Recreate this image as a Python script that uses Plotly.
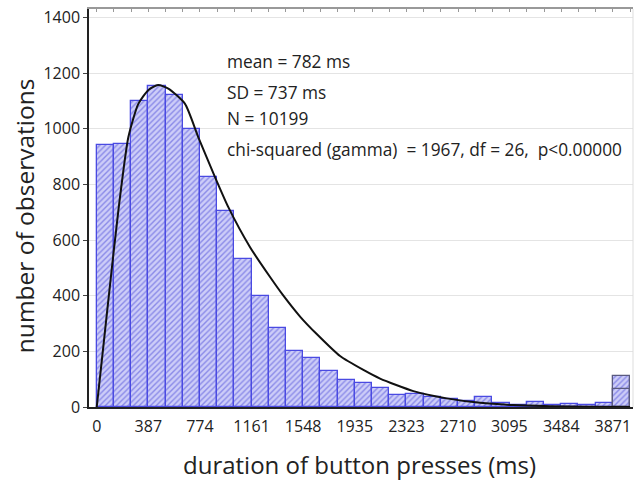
import plotly.graph_objects as go

# ---- data ----
bin_width = 3871 / 30  # ms per histogram bin
counts = [940, 945, 1100, 1155, 1120, 1000, 825, 705, 530, 400, 285, 200,
          175, 130, 97, 88, 68, 42, 45, 35, 30, 22, 35, 14, 9, 17, 8, 12, 6, 16, 110]
overflow_inner = [66]  # inner segment of the last bar
bin_left = [i * bin_width for i in range(len(counts))]

curve_ms = [0, 50, 87, 162, 237, 312, 390, 460, 540, 662, 762, 887, 987, 1150,
            1300, 1400, 1525, 1650, 1825, 2000, 2125, 2375, 2625, 2875, 3125, 3400, 3700, 4000]
curve_count = [0, 220, 383, 705, 969, 1089, 1140, 1157, 1143, 1089, 969, 826, 718, 574,
               467, 400, 325, 262, 183, 133, 102, 57, 31, 15, 7, 3, 1, 0]

tick_vals = [0, 387, 774, 1161, 1548, 1935, 2323, 2710, 3095, 3484, 3871]
tick_text = ["0", "387", "774", "1161", "1548", "1935", "2323", "2710", "3095", "3484", "3871"]
y_ticks = [0, 200, 400, 600, 800, 1000, 1200, 1400]

stats_lines = ["mean = 782 ms", "SD = 737 ms", "N = 10199",
               "chi-squared (gamma)  = 1967, df = 26,  p<0.00000"]

FONT = "Open Sans"

fig = go.Figure()
pattern = dict(shape="/", fgcolor="#8a8ae8", bgcolor="#cdcdf8", size=4, solidity=0.35,
               fillmode="replace")
outline_colors = ["#4a4ae2"] * (len(counts) - 1) + ["#5a5a80"]
fig.add_trace(go.Bar(
    x=bin_left, y=counts, width=bin_width, offset=0,
    marker=dict(color="#cdcdf8", pattern=pattern,
                line=dict(color=outline_colors, width=1.3)),
    showlegend=False, hoverinfo="skip"))
fig.add_trace(go.Bar(
    x=bin_left[-1:], y=overflow_inner, width=bin_width, offset=0,
    marker=dict(color="rgba(0,0,0,0)", line=dict(color="#5a5a80", width=1.3)),
    showlegend=False, hoverinfo="skip"))
fig.add_trace(go.Scatter(
    x=curve_ms, y=curve_count, mode="lines",
    line=dict(color="#111111", width=2, shape="spline", smoothing=0.6),
    showlegend=False, hoverinfo="skip"))
# dummy trace to hold the top axis
fig.add_trace(go.Scatter(x=[], y=[], xaxis="x2", showlegend=False))

xr = [-58, 4022]
fig.update_layout(
    width=635, height=482,
    margin=dict(l=89, r=2, t=9, b=75),
    paper_bgcolor="white", plot_bgcolor="white",
    barmode="overlay", bargap=0,
    font=dict(family=FONT, color="#222222"),
    xaxis=dict(range=xr, tickvals=tick_vals, ticktext=tick_text, showgrid=False,
               zeroline=False, showline=True, linecolor="#222222", linewidth=1.5,
               ticks="", tickfont=dict(size=16, family=FONT, color="#222222"),
               ticklabelstandoff=4),
    xaxis2=dict(range=xr, overlaying="x", side="top", anchor="y",
                tickvals=bin_left + [len(counts) * bin_width], showticklabels=False,
                ticks="inside", ticklen=3, tickcolor="#999999", showgrid=False,
                zeroline=False, showline=True, linecolor="#999999", linewidth=1.5),
    yaxis=dict(range=[0, 1430], tickvals=y_ticks, showgrid=True, gridcolor="#e4e4e4",
               gridwidth=1, zeroline=False, showline=True, linecolor="#222222",
               linewidth=1.5, ticks="outside", ticklen=4, tickcolor="#444444",
               tickfont=dict(size=16, family=FONT, color="#222222")),
)

# right frame line
fig.add_shape(type="line", xref="paper", yref="paper", x0=1, x1=1, y0=0, y1=1,
              line=dict(color="#dddddd", width=1))

# axis titles
fig.add_annotation(text="number of observations", xref="paper", yref="paper",
                   x=-0.1195, y=0.482, textangle=-90, showarrow=False,
                   font=dict(size=24.5, family=FONT, color="#222222"),
                   xanchor="center", yanchor="middle")
fig.add_annotation(text="duration of button presses (ms)", xref="paper", yref="paper",
                   x=0.498, y=-0.1457, showarrow=False,
                   font=dict(size=24, family=FONT, color="#222222"),
                   xanchor="center", yanchor="middle")

# statistics text
stat_y = [0.867, 0.789, 0.726, 0.648]
for txt, yy in zip(stats_lines, stat_y):
    fig.add_annotation(text=txt, xref="paper", yref="paper", x=0.25, y=yy,
                       showarrow=False, xanchor="left", yanchor="middle",
                       font=dict(size=17.3, family=FONT, color="#222222"))

fig.write_html("out.html", config={"displayModeBar": False},
               post_script="document.body.style.margin='0';document.body.style.overflow='hidden';")
